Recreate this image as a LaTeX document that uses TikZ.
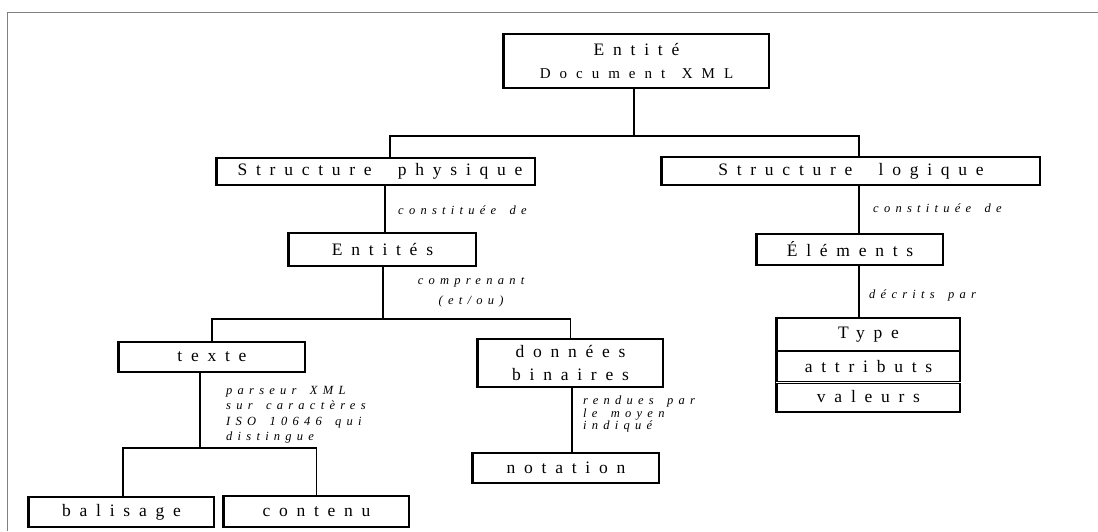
\documentclass[tikz,border=0pt]{standalone}
\usepackage{fontspec}
\setmainfont{Liberation Serif}
\newfontfamily\bxfam[LetterSpace=50,WordSpace=2]{Liberation Serif}
\newfontfamily\lbfam[LetterSpace=42,WordSpace=1.6]{Liberation Serif}
\newfontfamily\docfam[LetterSpace=60,WordSpace=1.3]{Liberation Serif}
\newcommand\bxfont{\bxfam\fontsize{17.5}{21}\selectfont}
\newcommand\lbfont[1]{\lbfam\itshape\fontsize{12.5}{#1}\selectfont}
\tikzset{
  box/.style={draw, line width=1.1pt, inner sep=0pt, align=center, font=\bxfont,
    append after command={(\tikzlastnode.north west) edge[draw, line width=2.2pt] (\tikzlastnode.south west)}},
  conn/.style={draw, line width=1.6pt},
  lbl/.style={inner sep=0pt, font=\lbfont{15.5}},
  frame/.style={draw, line width=1pt, color=black!50}
}
\begin{document}
\begin{tikzpicture}[x=1pt, y=-1pt]
\useasboundingbox (0,0) rectangle (1098,531);
\draw[frame] (1098,12.5) -- (7.5,12.5) -- (7.5,531);

% boxes
\node[box, minimum width=265pt, minimum height=54pt] (entite) at (636.5,61)
  {Entité\\[2pt]{\docfam\fontsize{15}{18}\selectfont Document XML}};
\node[box, minimum width=318pt, minimum height=27pt] (sphys) at (376,171.5) {\hspace*{8pt}Structure physique};
\node[box, minimum width=378pt, minimum height=28pt] (slog) at (851,171) {Structure logique};
\node[box, minimum width=187pt, minimum height=33pt] (entites) at (382.5,249.5) {Entités};
\node[box, minimum width=186pt, minimum height=31pt] (elements) at (850,249.5) {Éléments};
\node[box, minimum width=186pt, minimum height=30pt] (texte) at (212,357) {texte};
\node[box, minimum width=185pt, minimum height=48pt] (donnees) at (570.5,363) {données\\[2pt]binaires};
\node[box, minimum width=186pt, minimum height=30pt] (notation) at (566,468) {notation};
\node[box, minimum width=185pt, minimum height=30pt] (balisage) at (121.5,512) {balisage};
\node[box, minimum width=185pt, minimum height=31pt] (contenu) at (316.5,511.5) {contenu};
\node[box, minimum width=183pt, minimum height=33pt] (typeA) at (868.5,334.5) {Type};
\node[box, minimum width=183pt, minimum height=31pt] (typeB) at (868.5,366.5) {attributs};
\node[box, minimum width=183pt, minimum height=30pt] (typeC) at (868.5,397) {valeurs};
\draw[double, double distance=0.8pt, line width=0.9pt] (typeB.south west) -- (typeB.south east);

% junctions
\coordinate (j0) at (634,136);
\coordinate (j2) at (383,319);
\coordinate (j3) at (200,448);
\coordinate (j4) at (572,0);
\coordinate (xr) at (859,0);

% connectors
\draw[conn] (entite.south -| j0) -- (j0);
\draw[conn] ([xshift=14pt]sphys.north) |- (j0) -| ([xshift=8pt]slog.north);
\draw[conn] ([xshift=9pt]sphys.south) -- ([xshift=2.5pt]entites.north);
\draw[conn] (entites.south -| j2) -- (j2);
\draw[conn] (texte.north) |- (j2) -| (donnees.north);
\draw[conn] (texte.south -| j3) -- (j3);
\draw[conn] ([xshift=1.5pt]balisage.north) |- (j3) -| (contenu.north);
\draw[conn] (donnees.south -| j4) -- (notation.north -| j4);
\draw[conn] (slog.south -| xr) -- (elements.north -| xr);
\draw[conn] (elements.south -| xr) -- (typeA.north -| xr);

% labels
\node[lbl, anchor=west] (lab1) at (398,210) {constituée de};
\node[lbl, anchor=north, align=center, font=\lbfont{20}] (lab2) at (471,277) {comprenant\\(et/ou)};
\node[lbl, anchor=north west, align=left, font=\lbfont{15.5}] (lab3) at (226,386) {parseur XML\\sur caractères\\ISO 10646 qui\\distingue};
\node[lbl, anchor=north west, align=left, font=\lbfont{12.5}] (lab4) at (583,396) {rendues par\\le moyen\\indiqué};
\node[lbl, anchor=west] (lab5) at (873,208) {constituée de};
\node[lbl, anchor=west] (lab6) at (869,295) {décrits par};
\end{tikzpicture}
\end{document}
